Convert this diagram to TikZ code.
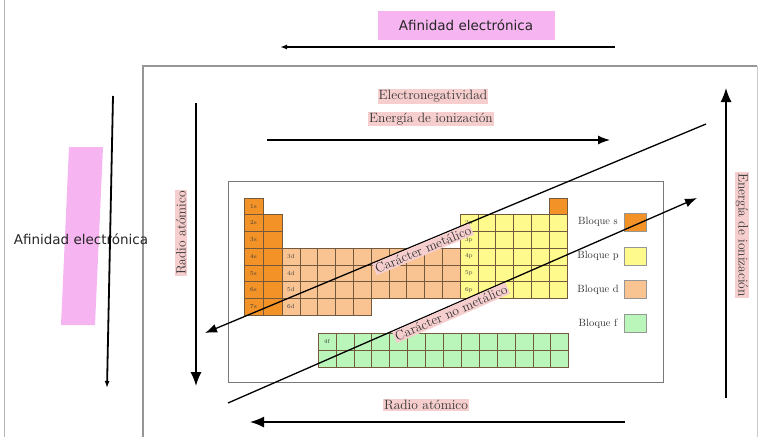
\documentclass[tikz,border=0pt]{standalone}
\usepackage{fontspec}
\newfontfamily\afsans{DejaVu Sans}
\usetikzlibrary{arrows.meta}

\definecolor{bloqS}{RGB}{243,146,38}
\definecolor{bloqD}{RGB}{250,196,146}
\definecolor{bloqP}{RGB}{255,250,140}
\definecolor{bloqF}{RGB}{186,245,186}
\definecolor{rosa}{RGB}{246,206,206}
\definecolor{malva}{RGB}{246,180,240}
\definecolor{celda}{RGB}{115,90,60}
\definecolor{marco}{RGB}{150,150,150}

\tikzset{
  etiq/.style={fill=rosa, inner sep=1.2pt, text=black!80, font=\fontsize{13.5}{15}\selectfont},
  afin/.style={text=black!85, font=\afsans\fontsize{13.5}{16}\selectfont},
  celdas/.style={draw=celda, line width=0.6pt},
  nombre/.style={inner sep=0pt, text=black!75, font=\fontsize{6}{7}\selectfont},
  leyenda/.style={inner sep=0pt, text=black!80, font=\fontsize{10.5}{12}\selectfont},
  cuadro/.style={draw=marco, line width=0.8pt, minimum width=22pt, minimum height=18pt, inner sep=0pt},
  fino/.style={line width=1.8pt, -{Latex[length=7pt,width=5pt]}},
  grueso/.style={line width=1.5pt, -{Latex[length=14pt,width=11pt]}},
  medio/.style={line width=1.3pt, -{Latex[length=12pt,width=9pt]}}
}

\begin{document}
\begin{tikzpicture}[x=1pt,y=-1pt]
\useasboundingbox (0,0) rectangle (763,437);

\draw[marco!70, line width=1pt] (4,0) -- (4,437);
\draw[marco, line width=1.5pt] (143,437) -- (143,66) -- (757,66);
\draw[marco!50, line width=1pt] (757,66) -- (757,437);

% afinidad arriba
\node[afin, fill=malva, minimum width=177pt, minimum height=29pt] (afinT) at (466,25) {Afinidad electrónica};
\coordinate (aT1) at (615,47);
\coordinate (aT2) at (280,47);
\draw[fino] (aT1) -- (aT2);

% afinidad izquierda
\fill[malva] (69,147) -- (103,147) -- (95,325) -- (61,325) -- cycle;
\node[afin] (afinL) at (81,239) {Afinidad electrónica};
\coordinate (aL1) at (113,96);
\coordinate (aL2) at (107,388);
\draw[fino] (aL1) -- (aL2);

% tabla
\draw[marco!80!black, line width=0.8pt] (228,181) rectangle (663,382);

\foreach \r in {0,...,6}
  \draw[celdas, fill=bloqS] (244,198+\r*16.7) rectangle ++(19,16.7);
\foreach \r in {1,...,6}
  \draw[celdas, fill=bloqS] (263,198+\r*16.7) rectangle ++(19,16.7);
\foreach \c in {0,...,9}
  \foreach \r in {3,4,5}
    \draw[celdas, fill=bloqD] (282+\c*17.8,198+\r*16.7) rectangle ++(17.8,16.7);
\foreach \c in {0,...,4}
  \draw[celdas, fill=bloqD] (282+\c*17.8,298.2) rectangle ++(17.8,16.7);
\foreach \c in {0,...,5}
  \foreach \r in {1,...,5}
    \draw[celdas, fill=bloqP] (460+\c*17.8,198+\r*16.7) rectangle ++(17.8,16.7);
\draw[celdas, fill=bloqS] (549,198) rectangle ++(17.8,16.7);
\foreach \c in {0,...,13}
  \foreach \r in {0,1}
    \draw[celdas, fill=bloqF] (318+\c*17.9,333+\r*17) rectangle ++(17.9,17);

\foreach \r in {1,...,7}
  \node[nombre] (s\r) at (253.5,189.6+\r*16.7) {\r s};
\foreach \r in {3,...,6}
  \node[nombre] (d\r) at (290.9,206.3+\r*16.7) {\r d};
\foreach \r in {2,...,6}
  \node[nombre] (p\r) at (468.9,189.6+\r*16.7) {\r p};
\node[nombre] (f4) at (326.9,341.5) {4f};

% leyenda
\node[leyenda] (ls) at (598,222) {Bloque s};
\node[leyenda] (lp) at (598,256) {Bloque p};
\node[leyenda] (ld) at (598,290) {Bloque d};
\node[leyenda] (lf) at (598,324) {Bloque f};
\node[cuadro, fill=bloqS] (cs) at (635,222) {};
\node[cuadro, fill=bloqP] (cp) at (635,256) {};
\node[cuadro, fill=bloqD] (cd) at (635,289.5) {};
\node[cuadro, fill=bloqF] (cf) at (635,323.5) {};

% flechas interiores
\node[etiq] (electro) at (433,96.5) {Electronegatividad};
\node[etiq] (energiaT) at (431,119) {Energía de ionización};
\coordinate (eT1) at (267,140);
\coordinate (eT2) at (610,140);
\draw[medio] (eT1) -- (eT2);

\node[etiq, rotate=90] (radioL) at (181,233) {Radio atómico};
\coordinate (rL1) at (196,103);
\coordinate (rL2) at (196,386);
\draw[grueso] (rL1) -- (rL2);

\node[etiq, rotate=-90] (energiaR) at (742,235) {Energía de ionización};
\coordinate (eR1) at (726,398);
\coordinate (eR2) at (726,88);
\draw[grueso] (eR1) -- (eR2);

\node[etiq] (radioB) at (426,405) {Radio atómico};
\coordinate (rB1) at (625,422);
\coordinate (rB2) at (250,422);
\draw[grueso] (rB1) -- (rB2);

\coordinate (cm1) at (706,124);
\coordinate (cm2) at (205,333);
\draw[medio] (cm1) -- node[etiq, sloped, below, pos=0.57] (metal) {Carácter metálico} (cm2);

\coordinate (cn1) at (228,403);
\coordinate (cn2) at (697,198);
\draw[medio] (cn1) -- node[etiq, sloped, below, pos=0.47] (nometal) {Carácter no metálico} (cn2);
\end{tikzpicture}
\end{document}
